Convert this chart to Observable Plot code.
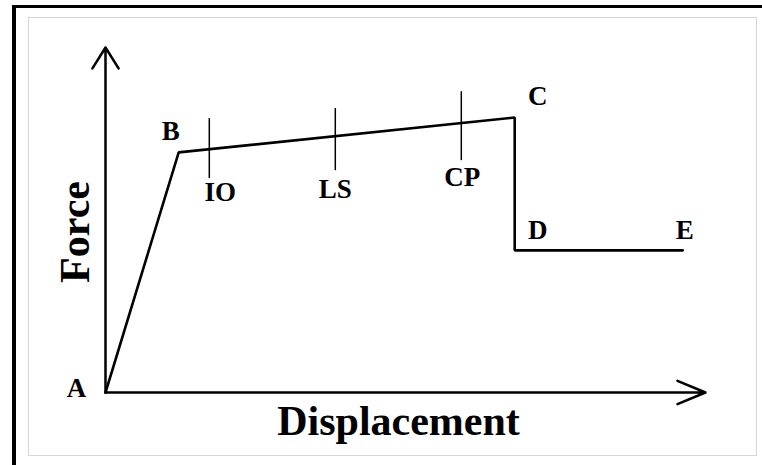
<!DOCTYPE html>
<html><head><meta charset="utf-8">
<script src="https://cdn.jsdelivr.net/npm/d3@7"></script>
<script src="https://cdn.jsdelivr.net/npm/@observablehq/plot@0.6"></script>
<style>
html,body{margin:0;padding:0;background:#fff;}
#wrap{position:relative;width:762px;height:465px;overflow:hidden;}
#outer{position:absolute;left:12px;top:5px;width:800px;height:500px;border-top:3.5px solid #000;border-left:4px solid #000;}
#inner{position:absolute;left:28px;top:17px;width:729px;height:439px;box-sizing:border-box;border:1.5px solid #d6d6d6;}
#wrap svg{position:absolute;left:0;top:0;}
</style></head><body><div id="wrap"><div id="outer"></div><div id="inner"></div></div>
<script>
// Curve points (generic force–displacement backbone)
const pointNames = ["A", "B", "C", "D", "E"];
const displacement = [0, 12.2, 68.2, 68.2, 96.2];
const force = [0, 69.6, 79.7, 41.2, 41.2];

// Performance levels marked on the B–C segment
const levelNames = ["IO", "LS", "CP"];
const levelDisplacement = [17.3, 38.3, 59.3];
const levelTop = [79.4, 82.3, 87.2];
const levelBottom = [62.0, 64.3, 67.2];

// Axis titles
const xTitle = "Displacement";
const yTitle = "Force";
const xDomain = [0, 100];
const yDomain = [0, 100];

// label offsets (px) — styling, not data
const pointOffset = {A: [-29, -4], B: [-8, -21], C: [23, -21], D: [23, -20], E: [2, -20]};
const levelOffset = {IO: [11, 14], LS: [0, 19], CP: [1, 17]};

const font = {fontFamily: "'Liberation Serif', 'Times New Roman', serif", fontWeight: "bold", fill: "#000",
  textAnchor: "middle", lineAnchor: "middle"};
const idx = pointNames.map((_, i) => i);
const lidx = levelNames.map((_, i) => i);

const chart = Plot.plot({
  width: 762,
  height: 465,
  marginLeft: 105,
  marginRight: 57,
  marginTop: 47,
  marginBottom: 73,
  x: {domain: xDomain, axis: null},
  y: {domain: yDomain, axis: null},
  style: {background: "transparent", overflow: "visible"},
  marks: [
    // axes with arrowheads
    Plot.arrow([0], {x1: () => xDomain[0], y1: () => yDomain[0], x2: () => xDomain[1], y2: () => yDomain[0],
      stroke: "#000", strokeWidth: 2.5, headLength: 18.2, headAngle: 45}),
    Plot.arrow([0], {x1: () => xDomain[0], y1: () => yDomain[0], x2: () => xDomain[0], y2: () => yDomain[1],
      stroke: "#000", strokeWidth: 2.5, headLength: 14.8, headAngle: 64}),
    // backbone curve
    Plot.line(idx, {x: i => displacement[i], y: i => force[i], stroke: "#000", strokeWidth: 2.6, strokeLinejoin: "miter"}),
    // performance level ticks
    Plot.ruleX(lidx, {x: i => levelDisplacement[i], y1: i => levelBottom[i], y2: i => levelTop[i], stroke: "#000", strokeWidth: 1.5}),
    // point labels
    ...idx.map(i => Plot.text([i], {x: () => displacement[i], y: () => force[i], text: () => pointNames[i],
      dx: pointOffset[pointNames[i]][0], dy: pointOffset[pointNames[i]][1], fontSize: 27, ...font})),
    // level labels
    ...lidx.map(i => Plot.text([i], {x: () => levelDisplacement[i], y: () => levelBottom[i], text: () => levelNames[i],
      dx: levelOffset[levelNames[i]][0], dy: levelOffset[levelNames[i]][1], fontSize: 27, ...font})),
    // axis titles
    Plot.text([xTitle], {frameAnchor: "bottom", text: d => d, dx: -7, dy: 29, fontSize: 42, ...font}),
    Plot.text([yTitle], {frameAnchor: "left", text: d => d, dx: -30, dy: 12, rotate: -90, fontSize: 42, ...font})
  ]
});
document.getElementById("wrap").appendChild(chart);
</script>
</body></html>
